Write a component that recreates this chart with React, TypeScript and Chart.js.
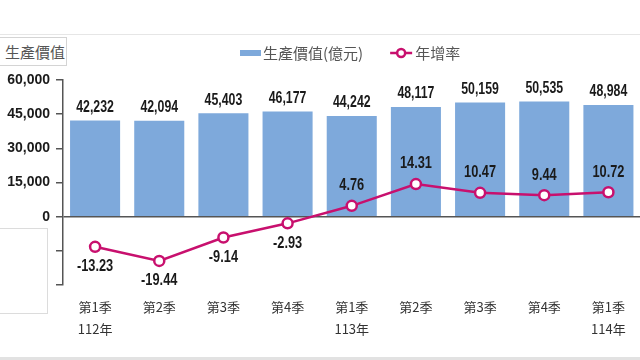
import React, { useEffect, useRef } from 'react';
import { Chart, registerables } from 'chart.js';

Chart.register(...registerables);

const categories: string[][] = [
  ['第1季', '112年'], ['第2季'], ['第3季'], ['第4季'],
  ['第1季', '113年'], ['第2季'], ['第3季'], ['第4季'],
  ['第1季', '114年'],
];
const productionValues = [42232, 42094, 45403, 46177, 44242, 48117, 50159, 50535, 48984];
const growthRates = [-13.23, -19.44, -9.14, -2.93, 4.76, 14.31, 10.47, 9.44, 10.72];
const seriesNames = ['生產價值(億元)', '年增率'];
const yTitle = '生產價值';
const leftMin = -30000;
const leftMax = 60000;
const leftStep = 15000;
const rightMin = -30;
const rightMax = 60;

const BAR_COLOR = '#7EA9DB';
const LINE_COLOR = '#C8106E';
const AXIS_COLOR = '#555555';
const CJK = '"Noto Sans CJK TC", "Noto Sans CJK SC", sans-serif';
const NUM_BOLD = '"Liberation Sans", Arial, sans-serif';

function condensedText(ctx: any, text: string, x: number, y: number, sx: number) {
  ctx.save();
  ctx.translate(x, y);
  ctx.scale(sx, 1);
  ctx.fillText(text, 0, 0);
  ctx.restore();
}

const labelsPlugin = {
  id: 'valueLabels',
  afterDatasetsDraw(chart: any) {
    const ctx = chart.ctx;
    ctx.save();
    ctx.textAlign = 'center';
    ctx.textBaseline = 'middle';
    ctx.fillStyle = '#1a1a1a';
    const barMeta = chart.getDatasetMeta(0);
    ctx.font = `bold 16px ${NUM_BOLD}`;
    barMeta.data.forEach((el: any, i: number) => {
      condensedText(ctx, productionValues[i].toLocaleString('en-US'), el.x, el.y - 13, 0.77);
    });
    const lineMeta = chart.getDatasetMeta(1);
    ctx.font = `bold 16px ${NUM_BOLD}`;
    lineMeta.data.forEach((el: any, i: number) => {
      const v = growthRates[i];
      const dy = v < 0 ? 20 : -20;
      condensedText(ctx, v.toFixed(2), el.x, el.y + dy, 0.8);
    });
    ctx.restore();
  },
};

const legendPlugin = {
  id: 'customLegend',
  afterDraw(chart: any) {
    const ctx = chart.ctx;
    ctx.save();
    const cy = 53;
    let x = 240;
    ctx.font = `15px ${CJK}`;
    ctx.textBaseline = 'middle';
    ctx.textAlign = 'left';
    ctx.fillStyle = BAR_COLOR;
    ctx.fillRect(x, cy - 3, 21, 6);
    x += 23;
    ctx.fillStyle = '#555';
    ctx.fillText(seriesNames[0], x, cy);
    x += ctx.measureText(seriesNames[0]).width + 27;
    ctx.strokeStyle = LINE_COLOR;
    ctx.lineWidth = 2.5;
    ctx.beginPath();
    ctx.moveTo(x, cy);
    ctx.lineTo(x + 22, cy);
    ctx.stroke();
    ctx.beginPath();
    ctx.arc(x + 11, cy, 4, 0, Math.PI * 2);
    ctx.fillStyle = '#fff';
    ctx.fill();
    ctx.stroke();
    x += 25;
    ctx.fillStyle = '#555';
    ctx.fillText(seriesNames[1], x, cy);
    ctx.restore();
  },
};

export default function App() {
  const canvasRef = useRef<HTMLCanvasElement | null>(null);

  useEffect(() => {
    if (!canvasRef.current) return;
    const chart = new Chart(canvasRef.current, {
      type: 'bar',
      data: {
        labels: categories,
        datasets: [
          {
            type: 'bar',
            label: seriesNames[0],
            data: productionValues,
            backgroundColor: BAR_COLOR,
            barPercentage: 0.78,
            categoryPercentage: 1,
            yAxisID: 'y',
            order: 1,
          },
          {
            type: 'line',
            label: seriesNames[1],
            data: growthRates,
            borderColor: LINE_COLOR,
            borderWidth: 2.5,
            pointRadius: 5,
            pointBorderWidth: 2.5,
            pointBackgroundColor: '#ffffff',
            pointBorderColor: LINE_COLOR,
            tension: 0,
            yAxisID: 'y1',
            order: 0,
          },
        ],
      } as any,
      options: {
        responsive: false,
        animation: false,
        devicePixelRatio: 1,
        layout: { padding: { top: 80, left: 0, right: 0, bottom: 0 } },
        plugins: {
          legend: { display: false },
          tooltip: { enabled: false },
          title: { display: false },
        },
        scales: {
          x: {
            type: 'category',
            offset: true,
            grid: { display: false, drawTicks: false },
            border: { display: false },
            ticks: {
              autoSkip: false,
              maxRotation: 0,
              padding: 11,
              color: '#333',
              font: { family: CJK, size: 13, lineHeight: 22 / 13 },
            },
            afterFit(scale: any) {
              scale.height = 75;
            },
          },
          y: {
            position: 'left',
            min: leftMin,
            max: leftMax,
            ticks: {
              stepSize: leftStep,
              padding: 6,
              color: '#1a1a1a',
              font: { family: '"Liberation Sans", Arial, sans-serif', size: 14, weight: 'bold' },
              callback: (v: any) => (Number(v) >= 0 ? Number(v).toLocaleString('en-US') : ''),
            },
            grid: {
              drawOnChartArea: true,
              color: (c: any) => (c.tick && c.tick.value === 0 ? AXIS_COLOR : 'rgba(0,0,0,0)'),
              lineWidth: 1.5,
              tickColor: AXIS_COLOR,
              tickLength: 7,
            },
            border: { display: true, color: AXIS_COLOR, width: 1.5 },
            afterFit(scale: any) {
              scale.width = 63;
            },
          },
          y1: {
            position: 'right',
            display: false,
            min: rightMin,
            max: rightMax,
            grid: { display: false },
          },
        },
      } as any,
      plugins: [labelsPlugin, legendPlugin],
    });
    return () => chart.destroy();
  }, []);

  return (
    <div style={{ position: 'fixed', left: 0, top: 0, width: 640, height: 360, overflow: 'hidden', background: '#fff' }}>
      <div style={{ position: 'absolute', left: 0, top: 34, width: 640, height: 1, background: '#e6e6e6' }} />
      <canvas ref={canvasRef} width={648} height={360} style={{ position: 'absolute', left: 0, top: 0, width: 648, height: 360 }} />
      <div
        style={{
          position: 'absolute', left: -1, top: 37, width: 68, height: 29,
          border: '1px solid #d4d4d4', boxSizing: 'border-box', background: '#fff',
          fontFamily: CJK, fontSize: 15, color: '#555', lineHeight: '27px', paddingLeft: 5,
        }}
      >
        {yTitle}
      </div>
      <div
        style={{
          position: 'absolute', left: -1, top: 228, width: 49, height: 86,
          border: '1px solid #dcdcdc', boxSizing: 'border-box',
        }}
      />
      <div style={{ position: 'absolute', left: 0, top: 357, width: 640, height: 3, background: '#e2e2e2' }} />
    </div>
  );
}
